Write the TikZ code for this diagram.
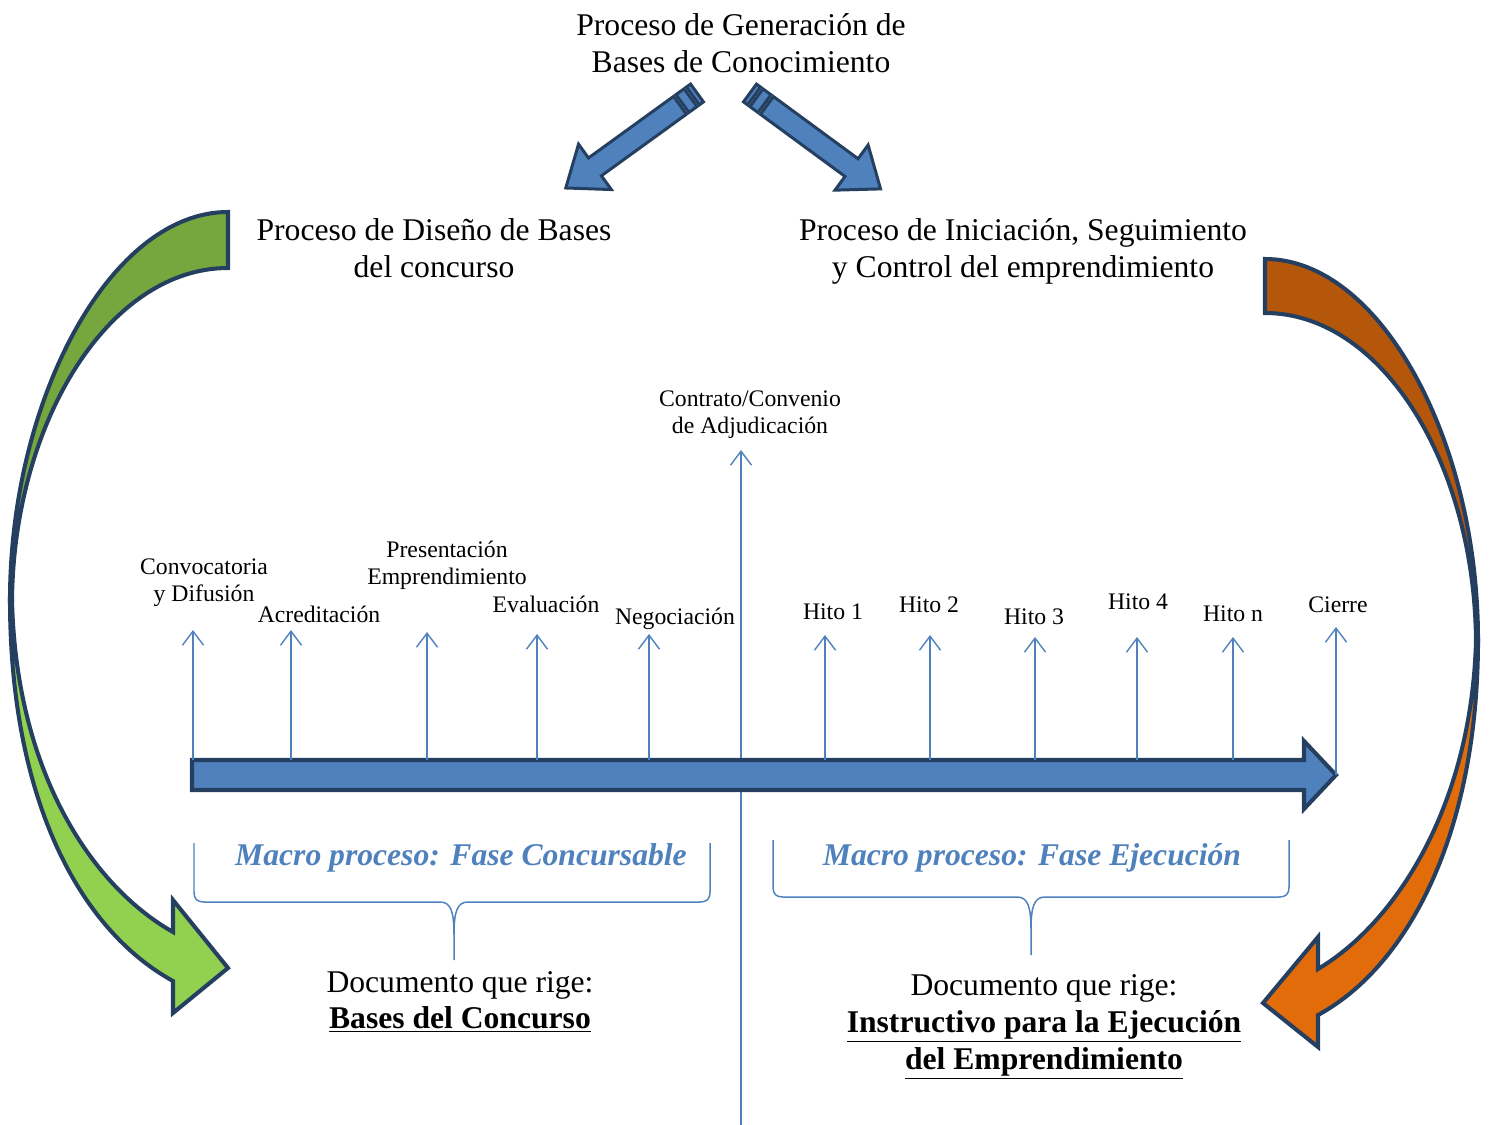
\documentclass[tikz,border=0pt]{standalone}
\usepackage{fontspec}
\setmainfont{Liberation Serif}
\usetikzlibrary{arrows.meta}
\definecolor{accblue}{HTML}{4F81BD}
\definecolor{darkline}{HTML}{243F60}
\definecolor{greenback}{HTML}{76A63E}
\definecolor{greenfront}{HTML}{92D050}
\definecolor{orangeback}{HTML}{B5570A}
\definecolor{orangefront}{HTML}{E26C0A}
\tikzset{
  stripedarrow/.pic={
    \draw[outl,line width=1.7pt,fill=accblue] (0,-11) rectangle (5,11);
    \draw[outl,line width=1.7pt,fill=accblue] (8,-11) rectangle (18,11);
    \draw[outl,line width=1.7pt,fill=accblue] (21,-11) -- (126,-11) -- (126,-28)
      -- (162,0) -- (126,28) -- (126,11) -- (21,11) -- cycle;
  }
}
\begin{document}
\begin{tikzpicture}[x=0.02cm,y=-0.02cm,
    outl/.style={draw=darkline,line width=2.3pt,line join=miter},
    tick/.style={draw=accblue,line width=0.8pt,-{Straight Barb[length=8pt,width=12pt]}},
    brace/.style={draw=accblue,line width=0.85pt},
    big/.style={font=\fontsize{18}{21}\selectfont,align=center},
    small/.style={font=\fontsize{13.5}{15.5}\selectfont,align=center,inner sep=1pt},
    bracetext/.style={font=\fontsize{18}{21}\selectfont\bfseries\itshape,text=accblue}]
  \useasboundingbox (0,0) rectangle (1491,1125);

  % titles
  \node[big] (gen) at (741,43) {Proceso de Generaci\'on de\\Bases de Conocimiento};
  \node[big] (dis) at (434,248) {Proceso de Dise\~no de Bases\\del concurso};
  \node[big] (ini) at (1023,251) {Proceso de Iniciaci\'on, Seguimiento\\y Control del emprendimiento};

  % striped arrows
  \pic[shift={(697,93)},rotate=215.9] {stripedarrow};
  \pic[shift={(750,93)},rotate=-36.3] {stripedarrow};

  % curved arrows
  \draw[outl,fill=greenback] (228,212) -- (228,268) .. controls (110,268) and (14,420) .. (12,600)
    -- (10,600) .. controls (10,400) and (110,212) .. (228,212) -- cycle;
  \draw[outl,fill=greenfront] (10,600) .. controls (10,800) and (80,930) .. (173,981)
    -- (173,1013) -- (228,968) -- (173,900) -- (173,932)
    .. controls (90,885) and (16,770) .. (12,600) -- cycle;
  \draw[outl,fill=orangeback] (1265,259) -- (1265,313) .. controls (1380,313) and (1474,460) .. (1476,640)
    -- (1478,640) .. controls (1478,440) and (1380,259) .. (1265,259) -- cycle;
  \draw[outl,fill=orangefront] (1478,640) .. controls (1478,830) and (1410,965) .. (1318,1015)
    -- (1318,1047) -- (1263,1003) -- (1318,937) -- (1318,969)
    .. controls (1400,920) and (1472,800) .. (1476,640) -- cycle;

  % central line
  \coordinate (c0) at (741,1125);
  \coordinate (c1) at (741,450);
  \draw[tick] (c0) -- (c1);
  \node[small] (adj) at (750,415) {Contrato/Convenio\\de Adjudicaci\'on};

  % timeline
  \draw[outl,fill=accblue] (192,760) -- (1304,760) -- (1304,741) -- (1336,775)
    -- (1304,809) -- (1304,790) -- (192,790) -- cycle;

  % milestones
  \foreach \x/\b/\t/\n in {193/760/630/1,291/760/630/2,427/760/632/3,537/760/634/4,
      649/760/634/5,825/760/635/6,930/760/635/7,1035/760/637/8,1137/760/637/9,
      1233/760/637/10,1336/775/627/11}{
    \coordinate (b\n) at (\x,\b);
    \coordinate (t\n) at (\x,\t);
    \draw[tick] (b\n) -- (t\n);
  }
  \node[small] (conv) at (204,583) {Convocatoria\\y Difusi\'on};
  \node[small] (acre) at (319,614) {Acreditaci\'on};
  \node[small] (pres) at (447,565) {Presentaci\'on\\Emprendimiento};
  \node[small] (eval) at (546,604) {Evaluaci\'on};
  \node[small] (nego) at (675,619) {Negociaci\'on};
  \node[small] (h1) at (833,612) {Hito 1};
  \node[small] (h2) at (929,605) {Hito 2};
  \node[small] (h3) at (1034,617) {Hito 3};
  \node[small] (h4) at (1138,602) {Hito 4};
  \node[small] (hn) at (1233,614) {Hito n};
  \node[small] (cie) at (1338,605) {Cierre};

  % braces
  \draw[brace] (194,843) -- (194,892) .. controls (194,899) and (197,902) .. (204,902) -- (440,902)
    .. controls (451,902) and (454,912) .. (454,935) -- (454,960) -- (454,935)
    .. controls (454,912) and (457,902) .. (468,902) -- (700,902)
    .. controls (707,902) and (710,899) .. (710,892) -- (710,843);
  \draw[brace] (773,840) -- (773,887) .. controls (773,894) and (776,897) .. (783,897) -- (1017,897)
    .. controls (1028,897) and (1031,907) .. (1031,930) -- (1031,955) -- (1031,930)
    .. controls (1031,907) and (1034,897) .. (1045,897) -- (1279,897)
    .. controls (1286,897) and (1289,894) .. (1289,887) -- (1289,840);
  \node[bracetext] (fcon) at (461,858) {Macro proceso: Fase Concursable};
  \node[bracetext] (feje) at (1032,858) {Macro proceso: Fase Ejecuci\'on};

  % documents
  \node[big] (doc1) at (460,1002) {Documento que rige:\\\textbf{\underline{Bases del Concurso}}};
  \node[big] (doc2) at (1044,1027) {Documento que rige:\\\textbf{\underline{Instructivo para la Ejecuci\'on}}\\\textbf{\underline{del Emprendimiento}}};
\end{tikzpicture}
\end{document}
